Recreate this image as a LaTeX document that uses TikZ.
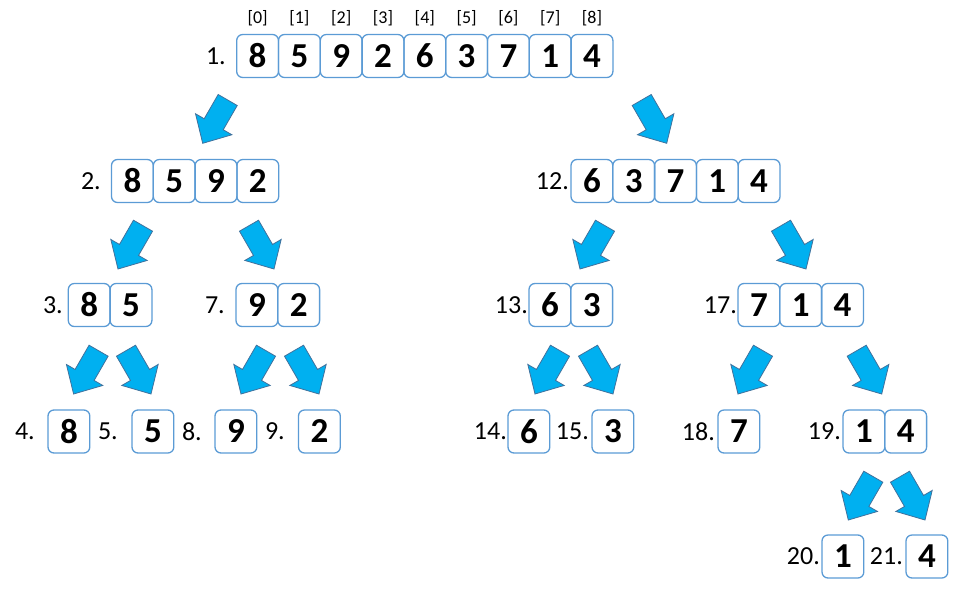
\documentclass[tikz,border=0pt]{standalone}
\usepackage{fontspec}
\setmainfont{Carlito}
\definecolor{boxline}{RGB}{91,155,213}
\definecolor{arrfill}{RGB}{0,176,240}
\definecolor{arrline}{RGB}{65,113,156}
\tikzset{
  cell/.style={draw=boxline, line width=1.3pt, rounded corners=6pt,
    minimum width=41.8pt, minimum height=43pt, inner sep=0pt,
    font=\fontsize{35}{40}\selectfont\bfseries},
  lbl/.style={anchor=east, inner sep=0pt, font=\fontsize{26}{30}\selectfont},
  idx/.style={inner sep=0pt, font=\fontsize{18}{20}\selectfont},
  blockarrow/.style={fill=arrfill, draw=arrline, line width=0.8pt, line join=miter},
  pics/dlarrow/.style={code={\draw[blockarrow,rotate=240] (0,0)--(-22,21)--(-22,11)--(-50,11)--(-50,-11)--(-22,-11)--(-22,-21)--cycle;}},
  pics/drarrow/.style={code={\draw[blockarrow,rotate=300] (0,0)--(-22,21)--(-22,11)--(-50,11)--(-50,-11)--(-22,-11)--(-22,-21)--cycle;}},
}
\newcommand\cellrow[4]{%
  \foreach \v [count=\i from 0] in {#4} {\node[cell] (#1-\i) at ({#2+20.9+41.8*\i},#3) {\v};}}
\begin{document}
\begin{tikzpicture}[x=1pt,y=-1pt]
\useasboundingbox (0,0) rectangle (957,600);
% row 1
\cellrow{ra}{236.7}{56}{8,5,9,2,6,3,7,1,4}
\foreach \i in {0,...,8} {\node[idx] (ix\i) at ({236.7+20.9+41.8*\i},18) {[\i]};}
\node[lbl] (la) at (226,56) {1.};
% row 2
\cellrow{rb}{111.5}{181}{8,5,9,2}
\node[lbl] (lb) at (101,181) {2.};
\cellrow{rl}{571}{181}{6,3,7,1,4}
\node[lbl] (ll) at (569,181) {12.};
% row 3
\cellrow{rc}{68.3}{305}{8,5}
\node[lbl] (lc) at (63,305) {3.};
\cellrow{rg}{236}{305}{9,2}
\node[lbl] (lg) at (225,305) {7.};
\cellrow{rm}{529}{305}{6,3}
\node[lbl] (lm) at (528,305) {13.};
\cellrow{rq}{738}{305}{7,1,4}
\node[lbl] (lq) at (737,305) {17.};
% row 4
\cellrow{rd}{48}{431.5}{8}
\node[lbl] (ld) at (35,431.5) {4.};
\cellrow{re}{132}{431.5}{5}
\node[lbl] (le) at (118,431.5) {5.};
\cellrow{rh}{215}{431.5}{9}
\node[lbl] (lh) at (202,431.5) {8.};
\cellrow{ri}{298.5}{431.5}{2}
\node[lbl] (li) at (285,431.5) {9.};
\cellrow{rn}{508}{431.5}{6}
\node[lbl] (ln) at (507,431.5) {14.};
\cellrow{ro}{592}{431.5}{3}
\node[lbl] (lo) at (589,431.5) {15.};
\cellrow{rr}{718}{431.5}{7}
\node[lbl] (lr) at (715,431.5) {18.};
\cellrow{rs}{843}{431.5}{1,4}
\node[lbl] (ls) at (841,431.5) {19.};
% row 5
\cellrow{rt}{822}{556.5}{1}
\node[lbl] (lt) at (820,556.5) {20.};
\cellrow{ru}{906}{556.5}{4}
\node[lbl] (lu) at (903,556.5) {21.};
% arrows
\pic at (202.7,143.3) {dlarrow};
\pic at (666.7,143.3) {drarrow};
\pic at (118,269) {dlarrow};
\pic at (274,269) {drarrow};
\pic at (580,269) {dlarrow};
\pic at (806,269) {drarrow};
\pic at (73.6,394) {dlarrow};
\pic at (151,394) {drarrow};
\pic at (241,394) {dlarrow};
\pic at (319,394) {drarrow};
\pic at (535,394) {dlarrow};
\pic at (613,394) {drarrow};
\pic at (738,394) {dlarrow};
\pic at (881.7,394) {drarrow};
\pic at (848.3,520) {dlarrow};
\pic at (925,520) {drarrow};
\end{tikzpicture}
\end{document}
